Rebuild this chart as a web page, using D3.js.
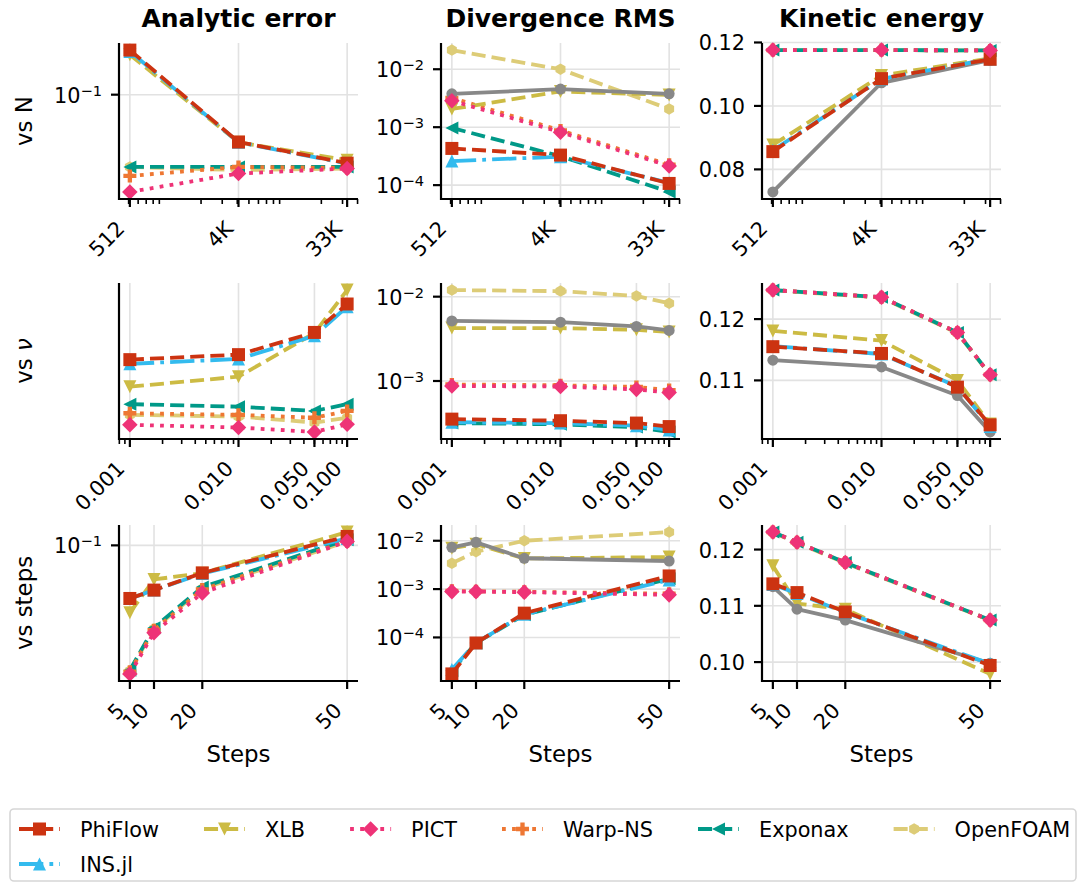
<!DOCTYPE html>
<html>
<head>
<meta charset="utf-8">
<title>Solver comparison</title>
<script src="https://cdn.jsdelivr.net/npm/d3@7"></script>
<style>
  body { margin: 0; background: #fff; }
  svg { font-family: "DejaVu Sans", sans-serif; }
</style>
</head>
<body>
<svg id="chart" width="1078" height="882"></svg>
<script>
// x values and their tick labels
const nValues = [512, 4096, 32768];
const nLabels = ["512", "4K", "33K"];
const nuValues = [0.001, 0.01, 0.05, 0.1];
const nuLabels = ["0.001", "0.010", "0.050", "0.100"];
const stepValues = [5, 10, 20, 50];
const stepLabels = ["5", "10", "20", "50"];

const solvers = ["PhiFlow", "XLB", "PICT", "Warp-NS", "Exponax", "OpenFOAM", "INS.jl", "Reference"];
const legendNames = ["PhiFlow", "XLB", "PICT", "Warp-NS", "Exponax", "OpenFOAM", "INS.jl"];
const metricTitles = ["Analytic error", "Divergence RMS", "Kinetic energy"];
const rowLabels = ["vs N", "vs ν", "vs steps"];

// one row per solver, same order as `solvers`; null = not available
const errN = [
  [0.1665, 0.0582, 0.0457],
  [0.158, 0.058, 0.0473],
  [0.0329, 0.0406, 0.0430],
  [0.0395, 0.0438, 0.0433],
  [0.0438, 0.0438, 0.0438],
  [0.0438, 0.0422, 0.0430],
  [0.164, 0.058, 0.0455],
  null
];
const divN = [
  [0.00043, 0.00033, 0.000107],
  [0.00206, 0.00413, 0.0036],
  [0.00286, 0.00082, 0.000214],
  [0.0032, 0.00088, 0.000225],
  [0.00097, 0.000316, 0.0000764],
  [0.0214, 0.0100, 0.00206],
  [0.00026, 0.00031, 0.00011],
  [0.00377, 0.00454, 0.00377]
];
const keN = [
  [0.0856, 0.1086, 0.1147],
  [0.0877, 0.1096, 0.1150],
  [0.1176, 0.1176, 0.1175],
  [0.1176, 0.1176, 0.1175],
  [0.1176, 0.1176, 0.1175],
  [0.1176, 0.1176, 0.1175],
  [0.0860, 0.1085, 0.1148],
  [0.0729, 0.1073, 0.1144]
];
const errNu = [
  [0.0402, 0.0426, 0.0551, 0.0766],
  [0.0294, 0.0330, 0.0547, 0.0900],
  [0.0189, 0.0183, 0.0174, 0.0190],
  [0.0216, 0.0212, 0.0205, 0.0222],
  [0.0240, 0.0233, 0.0222, 0.0240],
  [0.0212, 0.0208, 0.0194, 0.0205],
  [0.0383, 0.0405, 0.0530, 0.0743],
  null
];
const divNu = [
  [0.000353, 0.000338, 0.000317, 0.000288],
  [0.00424, 0.00424, 0.00405, 0.0038],
  [0.000873, 0.00086, 0.000796, 0.000728],
  [0.00091, 0.00089, 0.00085, 0.00078],
  [0.000317, 0.000306, 0.000284, 0.000249],
  [0.01197, 0.01164, 0.0102, 0.00834],
  [0.000324, 0.000317, 0.000295, 0.000263],
  [0.00516, 0.00499, 0.00444, 0.00398]
];
const keNu = [
  [0.1155, 0.1144, 0.1089, 0.10275],
  [0.11807, 0.11649, 0.1100, 0.10287],
  [0.12473, 0.12357, 0.11781, 0.11094],
  [0.12473, 0.12357, 0.11781, 0.11094],
  [0.12473, 0.12357, 0.11781, 0.11094],
  [0.1247, 0.1235, 0.1177, 0.1109],
  [0.1156, 0.1143, 0.1090, 0.1025],
  [0.1133, 0.1122, 0.10753, 0.1016]
];
const errSteps = [
  [0.0541, 0.0596, 0.0727, 0.1109],
  [0.0459, 0.0674, 0.0725, 0.1166],
  [0.0226, 0.0364, 0.0577, 0.1047],
  [0.0232, 0.0375, 0.0600, 0.1050],
  [0.0236, 0.0386, 0.0617, 0.1068],
  [0.0234, 0.0380, 0.0605, 0.1045],
  [0.0540, 0.0596, 0.0722, 0.1084],
  null
];
const divSteps = [
  [0.0000176, 0.0000767, 0.000318, 0.00187],
  [0.0070, 0.0085, 0.0043, 0.0046],
  [0.000887, 0.000887, 0.000865, 0.00076],
  [0.00092, 0.00090, 0.00088, 0.00080],
  [0.0000205, 0.000077, 0.000295, 0.00163],
  [0.00342, 0.00593, 0.0100, 0.0151],
  [0.0000216, 0.000078, 0.000300, 0.00155],
  [0.00731, 0.00927, 0.00434, 0.00381]
];
const keSteps = [
  [0.1139, 0.11235, 0.1089, 0.0994],
  [0.1171, 0.1104, 0.1094, 0.0979],
  [0.1231, 0.1213, 0.1177, 0.10746],
  [0.1231, 0.1213, 0.1177, 0.10746],
  [0.1231, 0.1213, 0.1177, 0.10746],
  [0.1230, 0.1212, 0.1176, 0.1074],
  [0.1138, 0.1122, 0.1088, 0.0997],
  [0.1134, 0.1094, 0.10746, 0.0998]
];
const keTicksN = [0.08, 0.10, 0.12];
const keTicksNu = [0.11, 0.12];
const keTicksSteps = [0.10, 0.11, 0.12];

// ---- styles ----
const style = {
  "PhiFlow":   { color: "#cc3311", dash: "dashed",  marker: "square",  size: 13 },
  "XLB":       { color: "#ccbb44", dash: "dashed",  marker: "tri-down", size: 13 },
  "PICT":      { color: "#ee3377", dash: "dotted",  marker: "diamond", size: 11 },
  "Warp-NS":   { color: "#ee7733", dash: "dotted",  marker: "plus",    size: 13 },
  "Exponax":   { color: "#009988", dash: "dashed",  marker: "tri-left", size: 13 },
  "OpenFOAM":  { color: "#ddcc77", dash: "dashed",  marker: "hexagon", size: 11.5 },
  "INS.jl":    { color: "#33bbee", dash: "dashdot", marker: "tri-up",  size: 13 },
  "Reference": { color: "#888888", dash: "solid",   marker: "circle",  size: 11 }
};
const lw = 3.8;
const dashes = {
  solid: null,
  dashed: [3.7, 1.6].map(d => d * lw).join(" "),
  dotted: [1, 1.65].map(d => d * lw).join(" "),
  dashdot: [6.4, 1.6, 1, 1.6].map(d => d * lw).join(" ")
};
const drawOrder = ["OpenFOAM", "Exponax", "Warp-NS", "XLB", "Reference", "INS.jl", "PhiFlow", "PICT"];

function markerPath(type, ms) {
  const h = ms / 2;
  const poly = pts => "M" + pts.map(p => p[0].toFixed(2) + "," + p[1].toFixed(2)).join("L") + "Z";
  switch (type) {
    case "square": return poly([[-h, -h], [h, -h], [h, h], [-h, h]]);
    case "diamond": { const r = h * Math.SQRT2; return poly([[0, -r], [r, 0], [0, r], [-r, 0]]); }
    case "tri-up": return poly([[0, -h], [h, h], [-h, h]]);
    case "tri-down": return poly([[0, h], [h, -h], [-h, -h]]);
    case "tri-left": return poly([[-h, 0], [h, -h], [h, h]]);
    case "plus": {
      const t = ms / 6;
      return poly([[-t, -h], [t, -h], [t, -t], [h, -t], [h, t], [t, t], [t, h], [-t, h], [-t, t], [-h, t], [-h, -t], [-t, -t]]);
    }
    case "hexagon": return poly(d3.range(6).map(i => {
      const a = -Math.PI / 2 + i * Math.PI / 3;
      return [h * Math.cos(a), h * Math.sin(a)];
    }));
    default: return d3.symbol(d3.symbolCircle, Math.PI * h * h)();
  }
}

// ---- layout ----
const svg = d3.select("#chart");
const colLeft = [119, 441, 762], plotW = 239;
const rowTop = [43, 283, 525], plotH = 156;
const rowX = [
  { values: nValues, labels: nLabels, log: true },
  { values: nuValues, labels: nuLabels, log: true },
  { values: stepValues, labels: stepLabels, log: false }
];
const panelData = [
  [errN, divN, keN],
  [errNu, divNu, keNu],
  [errSteps, divSteps, keSteps]
];
const linearTicks = [keTicksN, keTicksNu, keTicksSteps];
const gridColor = "#e2e2e2";

function padded(vals, log) {
  const f = log ? Math.log10 : (v => v);
  const lo = f(d3.min(vals)), hi = f(d3.max(vals));
  const p = (hi - lo) * 0.05;
  const inv = log ? (v => Math.pow(10, v)) : (v => v);
  return [inv(lo - p), inv(hi + p)];
}

for (let r = 0; r < 3; r++) {
  for (let c = 0; c < 3; c++) {
    const left = colLeft[c], top = rowTop[r], bottom = top + plotH, right = left + plotW;
    const xr = rowX[r];
    const data = panelData[r][c];
    const yLog = c < 2;
    const g = svg.append("g");

    const x = (xr.log ? d3.scaleLog() : d3.scaleLinear())
      .domain(padded(xr.values, xr.log)).range([left, right]);
    const allY = data.filter(d => d).flat();
    const y = (yLog ? d3.scaleLog() : d3.scaleLinear())
      .domain(padded(allY, yLog)).range([bottom, top]);

    // y major ticks
    let yTicks;
    if (yLog) {
      const [d0, d1] = y.domain();
      yTicks = d3.range(Math.ceil(Math.log10(d0)), Math.floor(Math.log10(d1)) + 1).map(k => Math.pow(10, k));
    } else {
      yTicks = linearTicks[r];
    }

    // grid
    g.selectAll(".gx").data(xr.values).enter().append("line")
      .attr("x1", d => x(d)).attr("x2", d => x(d)).attr("y1", top).attr("y2", bottom)
      .attr("stroke", gridColor).attr("stroke-width", 1.6);
    g.selectAll(".gy").data(yTicks).enter().append("line")
      .attr("x1", left).attr("x2", right).attr("y1", d => y(d)).attr("y2", d => y(d))
      .attr("stroke", gridColor).attr("stroke-width", 1.6);

    // series
    drawOrder.forEach(name => {
      const vals = data[solvers.indexOf(name)];
      if (!vals) return;
      const st = style[name];
      const pts = xr.values.map((xv, i) => [xv, vals[i]]);
      const line = d3.line().x(d => x(d[0])).y(d => y(d[1]));
      g.append("path").attr("d", line(pts))
        .attr("fill", "none").attr("stroke", st.color).attr("stroke-width", lw)
        .attr("stroke-dasharray", dashes[st.dash]).attr("stroke-linejoin", "round");
      g.selectAll(null).data(pts).enter().append("path")
        .attr("d", markerPath(st.marker, st.size))
        .attr("transform", d => `translate(${x(d[0])},${y(d[1])})`)
        .attr("fill", st.color);
    });

    // spines
    g.append("line").attr("x1", left).attr("x2", left).attr("y1", top).attr("y2", bottom + 1)
      .attr("stroke", "#000").attr("stroke-width", 2.2);
    g.append("line").attr("x1", left - 1).attr("x2", right).attr("y1", bottom).attr("y2", bottom)
      .attr("stroke", "#000").attr("stroke-width", 2.2);

    // x minor ticks (log rows)
    if (xr.log) {
      const [d0, d1] = x.domain();
      const minors = [];
      for (let k = Math.floor(Math.log10(d0)); k <= Math.ceil(Math.log10(d1)); k++) {
        for (let m = 2; m <= 9; m++) {
          const v = m * Math.pow(10, k);
          if (v >= d0 && v <= d1) minors.push(v);
        }
      }
      g.selectAll(null).data(minors).enter().append("line")
        .attr("x1", d => x(d)).attr("x2", d => x(d)).attr("y1", bottom).attr("y2", bottom + 5)
        .attr("stroke", "#000").attr("stroke-width", 1.6);
    }
    // x major ticks + labels
    g.selectAll(null).data(xr.values).enter().append("line")
      .attr("x1", d => x(d)).attr("x2", d => x(d)).attr("y1", bottom).attr("y2", bottom + 8)
      .attr("stroke", "#000").attr("stroke-width", 2.2);
    g.selectAll(null).data(xr.values).enter().append("text")
      .attr("transform", d => `translate(${x(d) - 4},${bottom + 31}) rotate(-45)`)
      .attr("text-anchor", "end").attr("font-size", 20.8)
      .text((d, i) => xr.labels[i]);

    // y ticks + labels
    g.selectAll(null).data(yTicks).enter().append("line")
      .attr("x1", left - 8).attr("x2", left).attr("y1", d => y(d)).attr("y2", d => y(d))
      .attr("stroke", "#000").attr("stroke-width", 2.2);
    yTicks.forEach(t => {
      const txt = g.append("text").attr("x", left - 17).attr("y", y(t) + 8)
        .attr("text-anchor", "end").attr("font-size", 20.8);
      if (yLog) {
        const k = Math.round(Math.log10(t));
        txt.append("tspan").text("10");
        txt.append("tspan").attr("dy", -7).attr("font-size", 14.6).text("\u2212" + Math.abs(k));
      } else {
        txt.text(t.toFixed(2));
      }
    });

    if (r === 0) {
      svg.append("text").attr("x", (left + right) / 2).attr("y", 26.5)
        .attr("text-anchor", "middle").attr("font-size", 25).attr("font-weight", "bold")
        .text(metricTitles[c]);
    }
    if (r === 2) {
      svg.append("text").attr("x", (left + right) / 2).attr("y", 762)
        .attr("text-anchor", "middle").attr("font-size", 22.9).text("Steps");
    }
    if (c === 0) {
      const lab = rowLabels[r];
      const t = svg.append("text").attr("transform", `translate(32,${top + plotH / 2}) rotate(-90)`)
        .attr("text-anchor", "middle").attr("font-size", 22.9);
      if (lab.endsWith("ν")) {
        t.append("tspan").text(lab.slice(0, -1));
        t.append("tspan").attr("font-style", "italic").text("ν");
      } else {
        t.text(lab);
      }
    }
  }
}

// ---- legend ----
const leg = svg.append("g");
leg.append("rect").attr("x", 10).attr("y", 809).attr("width", 1066).attr("height", 72)
  .attr("rx", 4).attr("fill", "#fff").attr("stroke", "#d6d6d6").attr("stroke-width", 1.6);
const handleLen = 41, handlePad = 20, colGap = 45, legFont = 20.8;
const legendRows = [829, 864];
let lx = 19;
legendNames.forEach((name, i) => {
  const row = i < 6 ? 0 : 1;
  const hx = row === 0 ? lx : 19;
  const ly = legendRows[row];
  const st = style[name];
  leg.append("line").attr("x1", hx).attr("x2", hx + handleLen).attr("y1", ly).attr("y2", ly)
    .attr("stroke", st.color).attr("stroke-width", lw).attr("stroke-dasharray", dashes[st.dash]);
  leg.append("path").attr("d", markerPath(st.marker, st.size))
    .attr("transform", `translate(${hx + handleLen / 2},${ly})`).attr("fill", st.color);
  const t = leg.append("text").attr("x", hx + handleLen + handlePad).attr("y", ly + 7.5)
    .attr("font-size", legFont).text(name);
  if (row === 0) lx = hx + handleLen + handlePad + t.node().getComputedTextLength() + colGap;
});
</script>
</body>
</html>
